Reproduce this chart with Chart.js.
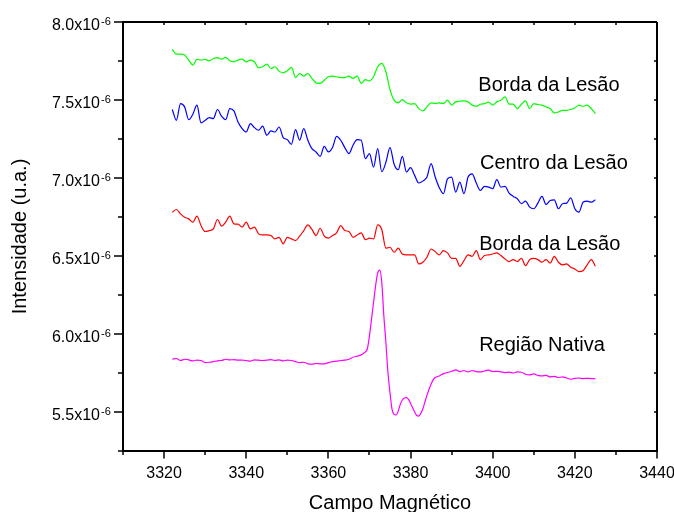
<!DOCTYPE html>
<html>
<head>
<meta charset="utf-8">
<script src="https://cdn.jsdelivr.net/npm/chart.js@4/dist/chart.umd.min.js"></script>
<style>
  html, body { margin: 0; padding: 0; background: #fff; }
  canvas { display: block; }
</style>
</head>
<body>
<canvas id="chart" width="674" height="512"></canvas>
<script>
// Magnetic field (G) for the three lesion spectra
const campo = [
  3322,3323,3324,3325,3326,3327,3328,3329,3330,3331,3332,3333,3334,3335,3336,3337,3338,3339,3340,3341,
  3342,3343,3344,3345,3346,3347,3348,3349,3350,3351,3352,3353,3354,3355,3356,3357,3358,3359,3360,3361,
  3362,3363,3364,3365,3366,3367,3368,3369,3370,3371,3372,3373,3374,3375,3376,3377,3378,3379,3380,3381,
  3382,3383,3384,3385,3386,3387,3388,3389,3390,3391,3392,3393,3394,3395,3396,3397,3398,3399,3400,3401,
  3402,3403,3404,3405,3406,3407,3408,3409,3410,3411,3412,3413,3414,3415,3416,3417,3418,3419,3420,3421,
  3422,3423,3424,3425
];

// Intensities in units of 1e-6 (u.a.)
const bordaSuperior = [
  7.824,7.794,7.794,7.788,7.756,7.724,7.760,7.756,7.760,7.751,7.766,7.771,7.762,7.773,7.751,7.745,7.756,7.762,7.745,7.756,
  7.745,7.706,7.713,7.730,7.702,7.713,7.685,7.674,7.687,7.709,7.644,7.670,7.653,7.670,7.638,7.610,7.606,7.627,7.649,7.653,
  7.649,7.644,7.644,7.653,7.638,7.653,7.606,7.631,7.623,7.649,7.713,7.735,7.681,7.567,7.499,7.482,7.503,7.482,7.473,7.477,
  7.445,7.430,7.456,7.482,7.477,7.482,7.477,7.499,7.467,7.488,7.492,7.494,7.488,7.467,7.460,7.473,7.477,7.486,7.467,7.488,
  7.499,7.520,7.473,7.473,7.445,7.473,7.494,7.445,7.477,7.471,7.467,7.456,7.445,7.417,7.424,7.434,7.434,7.439,7.449,7.467,
  7.460,7.467,7.445,7.413
];

const centroLesao = [
  7.439,7.370,7.477,7.456,7.374,7.409,7.467,7.353,7.370,7.387,7.381,7.439,7.396,7.374,7.445,7.430,7.359,7.317,7.295,7.349,
  7.323,7.306,7.332,7.274,7.302,7.295,7.327,7.259,7.246,7.216,7.310,7.242,7.317,7.242,7.188,7.167,7.139,7.203,7.167,7.195,
  7.267,7.242,7.195,7.156,7.210,7.246,7.242,7.124,7.156,7.070,7.188,7.040,7.100,7.195,7.088,7.053,7.139,7.038,7.066,7.017,
  6.968,6.980,7.006,7.092,7.006,6.938,6.899,6.995,7.006,6.910,6.974,6.899,7.006,7.027,6.968,6.920,6.946,6.942,6.931,6.989,
  6.942,6.946,6.903,6.882,6.867,6.835,6.852,6.813,6.803,6.839,6.882,6.830,6.856,6.860,6.803,6.835,6.839,6.873,6.803,6.781,
  6.845,6.852,6.845,6.860
];

const bordaInferior = [
  6.781,6.798,6.770,6.749,6.738,6.717,6.755,6.695,6.657,6.663,6.674,6.734,6.691,6.717,6.755,6.706,6.704,6.685,6.717,6.674,
  6.685,6.642,6.635,6.635,6.631,6.610,6.620,6.578,6.620,6.610,6.599,6.627,6.663,6.700,6.670,6.631,6.678,6.627,6.614,6.631,
  6.648,6.695,6.663,6.657,6.620,6.635,6.648,6.605,6.614,6.610,6.700,6.670,6.550,6.556,6.524,6.550,6.513,6.507,6.507,6.507,
  6.449,6.460,6.492,6.545,6.528,6.507,6.535,6.520,6.485,6.485,6.434,6.470,6.507,6.498,6.535,6.477,6.503,6.507,6.513,6.520,
  6.503,6.481,6.464,6.477,6.464,6.485,6.438,6.477,6.485,6.477,6.460,6.477,6.455,6.498,6.460,6.443,6.449,6.428,6.417,6.400,
  6.406,6.443,6.477,6.434
];

// Native-region spectrum, sampled more finely across the resonance line
const campoNativa = [
  3322,3323,3324,3325,3326,3327,3328,3329,3330,3331,3332,3333,3334,3335,3336,3337,3338,3339,3340,3341,
  3342,3343,3344,3345,3346,3347,3348,3349,3350,3351,3352,3353,3354,3355,3356,3357,3358,3359,3360,3361,
  3362,3363,3364,3365,3366,3367,3368,
  3368.5,3369,3369.5,3370,3370.5,3371,3371.5,3372,3372.5,3373,3373.5,3374,3374.5,3375,3375.5,3376,3376.5,3377,
  3377.5,3378,3378.5,3379,3379.5,3380,3380.5,3381,3381.5,3382,3382.5,3383,3383.5,3384,3384.5,3385,3385.5,3386,
  3387,3388,3389,3390,3391,3392,3393,3394,3395,3396,3397,3398,3399,3400,3401,3402,3403,3404,3405,3406,
  3407,3408,3409,3410,3411,3412,3413,3414,3415,3416,3417,3418,3419,3420,3421,3422,3423,3424,3425
];

const regiaoNativa = [
  5.838,5.843,5.830,5.838,5.834,5.828,5.832,5.830,5.817,5.819,5.823,5.828,5.830,5.838,5.834,5.836,5.832,5.832,5.830,5.826,
  5.834,5.832,5.830,5.832,5.836,5.830,5.834,5.828,5.832,5.830,5.823,5.817,5.819,5.809,5.806,5.811,5.809,5.809,5.817,5.823,
  5.826,5.830,5.832,5.838,5.851,5.858,5.866,
  5.875,5.885,5.907,5.988,6.095,6.203,6.310,6.391,6.410,6.331,6.117,5.946,5.753,5.624,5.517,5.485,5.481,5.506,
  5.549,5.577,5.590,5.592,5.581,5.556,5.528,5.500,5.478,5.474,5.491,5.521,5.564,5.607,5.646,5.678,5.706,5.721,
  5.731,5.746,5.753,5.761,5.770,5.759,5.766,5.757,5.766,5.759,5.757,5.763,5.768,5.759,5.761,5.757,5.753,5.755,5.750,5.757,
  5.755,5.742,5.738,5.744,5.735,5.731,5.735,5.725,5.729,5.721,5.725,5.718,5.710,5.716,5.718,5.714,5.716,5.714,5.714
];

// Axis ticks
const xTicks = [3320, 3340, 3360, 3380, 3400, 3420, 3440];
const xMinorTicks = [3310, 3330, 3350, 3370, 3390, 3410, 3430];
const yTicks = [5.5, 6.0, 6.5, 7.0, 7.5, 8.0];
const yTickLabels = ['5.5x10', '6.0x10', '6.5x10', '7.0x10', '7.5x10', '8.0x10'];
const yTickExponent = '-6';
const yMinorTicks = [5.25, 5.75, 6.25, 6.75, 7.25, 7.75];

// Curve names, anchored in data coordinates
const curveLabels = ['Borda da Lesão', 'Centro da Lesão', 'Borda da Lesão', 'Região Nativa'];
const curveLabelX = [3396.5, 3396.9, 3396.7, 3396.7];
const curveLabelY = [7.558, 7.055, 6.541, 5.892];

const FONT = '"Liberation Sans", Arial, Helvetica, sans-serif';

function pairs(xs, ys) {
  return xs.map((v, i) => ({ x: v, y: ys[i] }));
}

function series(xs, ys, color) {
  return {
    data: pairs(xs, ys),
    borderColor: color,
    backgroundColor: color,
    borderWidth: 1.2,
    pointRadius: 0,
    cubicInterpolationMode: 'monotone',
    fill: false
  };
}

const frameAndLabels = {
  id: 'frameAndLabels',
  afterDraw(chart) {
    const { ctx, chartArea: a, scales: { x, y } } = chart;
    ctx.save();
    ctx.strokeStyle = '#000';
    ctx.fillStyle = '#000';

    // frame
    ctx.lineWidth = 2;
    ctx.beginPath();
    ctx.moveTo(a.left, a.top); ctx.lineTo(a.right, a.top);
    ctx.moveTo(a.right, a.top); ctx.lineTo(a.right, a.bottom);
    ctx.moveTo(a.left, a.top - 1); ctx.lineTo(a.left, a.bottom + 1);
    ctx.moveTo(a.left - 1, a.bottom); ctx.lineTo(a.right + 1, a.bottom);
    ctx.stroke();

    // ticks
    ctx.lineWidth = 1.5;
    ctx.beginPath();
    xTicks.forEach(v => {
      const px = Math.round(x.getPixelForValue(v));
      ctx.moveTo(px, a.bottom); ctx.lineTo(px, a.bottom + 7.5);
      ctx.moveTo(px, a.top); ctx.lineTo(px, a.top + 3);
    });
    xMinorTicks.forEach(v => {
      const px = Math.round(x.getPixelForValue(v));
      ctx.moveTo(px, a.bottom); ctx.lineTo(px, a.bottom + 4);
      ctx.moveTo(px, a.top); ctx.lineTo(px, a.top + 3);
    });
    yTicks.forEach(v => {
      const py = Math.round(y.getPixelForValue(v));
      ctx.moveTo(a.left, py); ctx.lineTo(a.left - 9, py);
      ctx.moveTo(a.right, py); ctx.lineTo(a.right - 3, py);
    });
    yMinorTicks.forEach(v => {
      const py = Math.round(y.getPixelForValue(v));
      ctx.moveTo(a.left, py); ctx.lineTo(a.left - 5, py);
      ctx.moveTo(a.right, py); ctx.lineTo(a.right - 3, py);
    });
    ctx.stroke();

    // x tick labels
    ctx.font = '16px ' + FONT;
    ctx.textAlign = 'center';
    ctx.textBaseline = 'alphabetic';
    xTicks.forEach(v => {
      ctx.fillText(String(v), x.getPixelForValue(v), 477.5);
    });

    // y tick labels with superscript exponent
    yTicks.forEach((v, i) => {
      const py = y.getPixelForValue(v);
      ctx.font = '16px ' + FONT;
      ctx.textAlign = 'right';
      ctx.fillText(yTickLabels[i], 100, py + 7.5);
      ctx.font = '11px ' + FONT;
      ctx.textAlign = 'left';
      ctx.fillText(yTickExponent, 101, py + 3);
    });

    // axis titles
    ctx.font = '20px ' + FONT;
    ctx.textAlign = 'center';
    ctx.fillText('Campo Magnético', (a.left + a.right) / 2, 508.5);
    ctx.save();
    ctx.translate(25.5, (a.top + a.bottom) / 2);
    ctx.rotate(-Math.PI / 2);
    ctx.fillText('Intensidade (u.a.)', 0, 0);
    ctx.restore();

    // curve names
    ctx.textAlign = 'left';
    curveLabels.forEach((t, i) => {
      ctx.fillText(t, x.getPixelForValue(curveLabelX[i]), y.getPixelForValue(curveLabelY[i]));
    });

    ctx.restore();
  }
};

new Chart(document.getElementById('chart'), {
  type: 'line',
  data: {
    datasets: [
      series(campo, bordaSuperior, '#00ff00'),
      series(campo, centroLesao, '#0000ff'),
      series(campo, bordaInferior, '#ff0000'),
      series(campoNativa, regiaoNativa, '#ff00ff')
    ]
  },
  options: {
    responsive: false,
    animation: false,
    layout: { padding: { top: 22, right: 17, left: 0, bottom: 0 } },
    plugins: { legend: { display: false }, tooltip: { enabled: false } },
    scales: {
      x: {
        type: 'linear',
        min: 3310,
        max: 3440,
        grid: { display: false },
        border: { display: false },
        ticks: { display: false },
        afterFit(scale) { scale.height = 61; }
      },
      y: {
        type: 'linear',
        min: 5.25,
        max: 8.0,
        grid: { display: false },
        border: { display: false },
        ticks: { display: false },
        afterFit(scale) { scale.width = 123; }
      }
    }
  },
  plugins: [frameAndLabels]
});
</script>
</body>
</html>
